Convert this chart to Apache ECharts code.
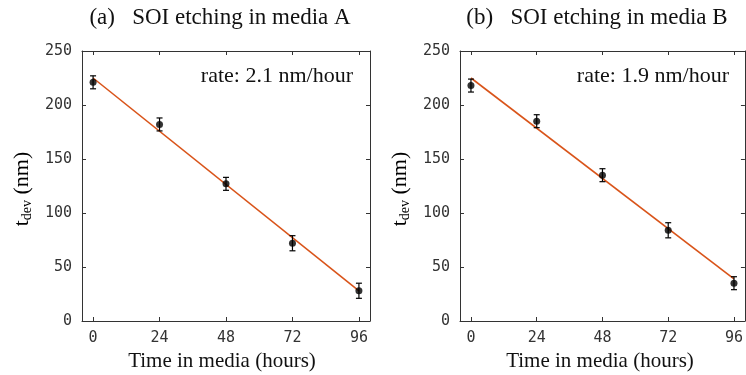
<!DOCTYPE html>
<html>
<head>
<meta charset="utf-8">
<script src="https://cdn.jsdelivr.net/npm/echarts@6/dist/echarts.min.js"></script>
<style>
  html, body { margin: 0; padding: 0; background: #fff; }
  #chart { width: 746px; height: 375px; }
</style>
</head>
<body>
<div id="chart"></div>
<script>
// data
var hours = [0, 24, 48, 72, 96];
var thickA = [221, 182, 127, 72, 28];
var errA = [6, 6, 6, 7, 7];
var thickB = [218, 185, 135, 84, 35];
var errB = [6, 6, 6, 7, 6];
var fitHours = [0, 96];
var fitA = [225, 28];
var fitB = [225, 39];
var xTicks = [0, 24, 48, 72, 96];
var titles = ['(a)   SOI etching in media A', '(b)   SOI etching in media B'];
var rates = ['rate: 2.1 nm/hour', 'rate: 1.9 nm/hour'];

var serif = '"Liberation Serif", "Times New Roman", serif';
var mono = '"DejaVu Sans Mono", monospace';
var axisColor = '#333';

var panels = [
  { left: 82, width: 288 },
  { left: 460, width: 287 }
];

function pairs(xs, ys) {
  return xs.map(function (x, i) { return [x, ys[i]]; });
}
function bars(xs, ys, es) {
  return xs.map(function (x, i) { return [x, ys[i] - es[i], ys[i] + es[i]]; });
}

function errorBar(params, api) {
  var x = api.value(0);
  var lo = api.coord([x, api.value(1)]);
  var hi = api.coord([x, api.value(2)]);
  var w = 3;
  var st = { stroke: '#000', lineWidth: 1.2 };
  return {
    type: 'group',
    children: [
      { type: 'line', shape: { x1: lo[0], y1: lo[1], x2: hi[0], y2: hi[1] }, style: st },
      { type: 'line', shape: { x1: lo[0] - w, y1: lo[1], x2: lo[0] + w, y2: lo[1] }, style: st },
      { type: 'line', shape: { x1: hi[0] - w, y1: hi[1], x2: hi[0] + w, y2: hi[1] }, style: st }
    ]
  };
}

var grids = [], xAxes = [], yAxes = [], series = [], graphics = [];

panels.forEach(function (p, i) {
  grids.push({ left: p.left, top: 51, width: p.width, height: 270 });

  ['bottom', 'top'].forEach(function (pos) {
    xAxes.push({
      type: 'value', gridIndex: i, position: pos, min: -4, max: 100,
      axisLine: { show: true, onZero: false, lineStyle: { color: axisColor, width: 1 } },
      axisTick: { show: true, inside: true, length: 4, customValues: xTicks, lineStyle: { color: axisColor } },
      axisLabel: {
        show: pos === 'bottom', customValues: xTicks, margin: 10,
        fontFamily: mono, fontSize: 15, color: '#333'
      },
      splitLine: { show: false }
    });
  });
  ['left', 'right'].forEach(function (pos) {
    yAxes.push({
      type: 'value', gridIndex: i, position: pos, min: 0, max: 250, interval: 50,
      axisLine: { show: true, onZero: false, lineStyle: { color: axisColor, width: 1 } },
      axisTick: { show: true, inside: true, length: 4, lineStyle: { color: axisColor } },
      axisLabel: {
        show: pos === 'left', margin: 10,
        fontFamily: mono, fontSize: 15, color: '#333'
      },
      splitLine: { show: false }
    });
  });

  var thick = i === 0 ? thickA : thickB;
  var err = i === 0 ? errA : errB;
  var fit = i === 0 ? fitA : fitB;

  series.push({
    type: 'line', xAxisIndex: i * 2, yAxisIndex: i * 2,
    data: pairs(fitHours, fit), symbol: 'none',
    lineStyle: { color: '#d9541a', width: 1.6 }, z: 2, silent: true
  });
  series.push({
    type: 'custom', xAxisIndex: i * 2, yAxisIndex: i * 2,
    data: bars(hours, thick, err), renderItem: errorBar, z: 3, silent: true
  });
  series.push({
    type: 'scatter', xAxisIndex: i * 2, yAxisIndex: i * 2,
    data: pairs(hours, thick), symbol: 'circle', symbolSize: 7,
    itemStyle: { color: '#000' }, z: 4, silent: true
  });

  graphics.push({
    type: 'text', x: (i === 0 ? 220 : 597), y: 18,
    style: { text: titles[i], font: '23px ' + serif, fill: '#111', align: 'center', verticalAlign: 'middle' }
  });
  graphics.push({
    type: 'text', x: (i === 0 ? 353 : 729), y: 76,
    style: { text: rates[i], font: '22px ' + serif, fill: '#111', align: 'right', verticalAlign: 'middle' }
  });
  graphics.push({
    type: 'text', x: p.left + 140, y: 361,
    style: { text: 'Time in media (hours)', font: '21px ' + serif, fill: '#111', align: 'center', verticalAlign: 'middle' }
  });
  graphics.push({
    type: 'text', x: p.left - 60, y: 189, rotation: Math.PI / 2,
    style: {
      text: '{a|t}{b|dev}{a| (nm)}', align: 'center', verticalAlign: 'middle',
      rich: {
        a: { fontFamily: serif, fontSize: 22, color: '#111', lineHeight: 24 },
        b: { fontFamily: serif, fontSize: 14, color: '#111', lineHeight: 14, verticalAlign: 'bottom', padding: [8, 0, 0, 0] }
      }
    }
  });
});

var myChart = echarts.init(document.getElementById('chart'));
myChart.setOption({
  animation: false,
  backgroundColor: '#fff',
  grid: grids,
  xAxis: xAxes,
  yAxis: yAxes,
  series: series,
  graphic: graphics
});
</script>
</body>
</html>
